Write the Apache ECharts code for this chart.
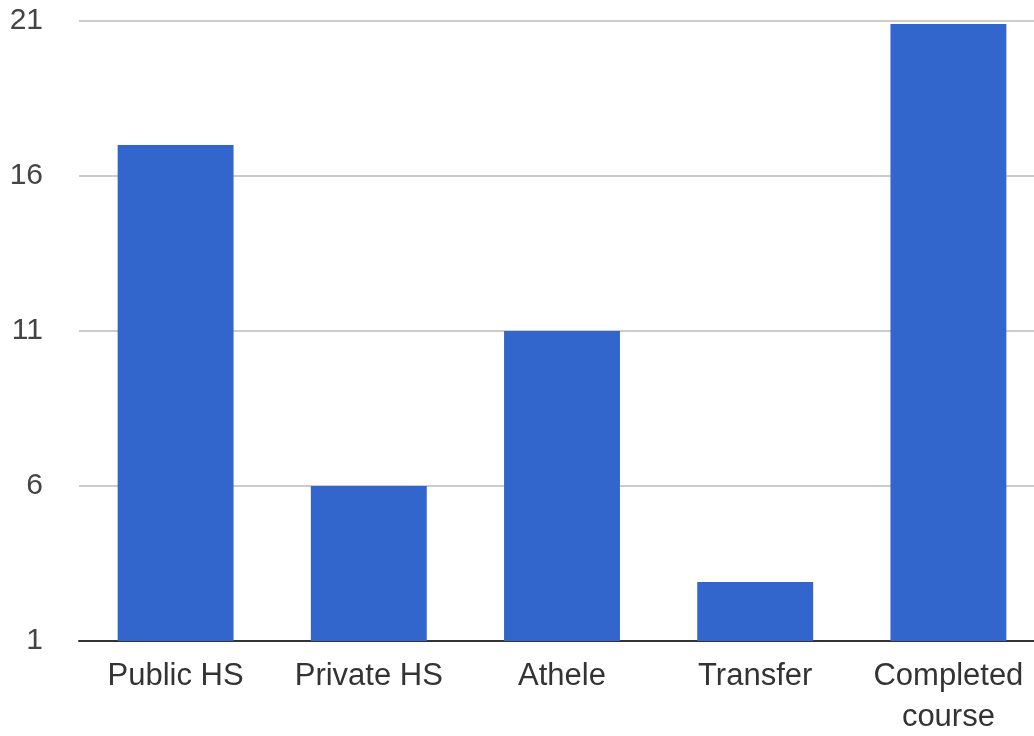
<!DOCTYPE html>
<html>
<head>
<meta charset="utf-8">
<script src="https://cdn.jsdelivr.net/npm/echarts@6/dist/echarts.min.js"></script>
<style>html,body{margin:0;padding:0;background:#fff;overflow:hidden}#c{width:1034px;height:736px}</style>
</head>
<body>
<div id="c"></div>
<script>
const categories = ['Public HS', 'Private HS', 'Athele', 'Transfer', 'Completed\ncourse'];
const values = [17, 6, 11, 2.9, 20.9];
const yTicks = { min: 1, max: 21, interval: 5 };

const chart = echarts.init(document.getElementById('c'), null, { renderer: 'canvas' });
chart.setOption({
  animation: false,
  backgroundColor: '#ffffff',
  grid: { left: 79, top: 21, height: 620, width: 966, containLabel: false, outerBoundsMode: 'none' },
  xAxis: {
    type: 'category',
    data: categories,
    axisTick: { show: false },
    axisLine: { lineStyle: { color: '#333333', width: 2 } },
    axisLabel: {
      color: '#333333', fontFamily: 'Liberation Sans', fontSize: 31,
      margin: 15, lineHeight: 41, interval: 0
    }
  },
  yAxis: {
    type: 'value',
    min: yTicks.min, max: yTicks.max, interval: yTicks.interval,
    axisLine: { show: false },
    axisTick: { show: false },
    splitLine: { lineStyle: { color: '#cccccc', width: 2 } },
    axisLabel: { color: '#444444', fontFamily: 'Liberation Sans', fontSize: 30, margin: 36 }
  },
  series: [{
    type: 'bar',
    data: values,
    barWidth: '60%',
    clip: true,
    itemStyle: { color: '#3366cc' }
  }]
});
</script>
</body>
</html>
